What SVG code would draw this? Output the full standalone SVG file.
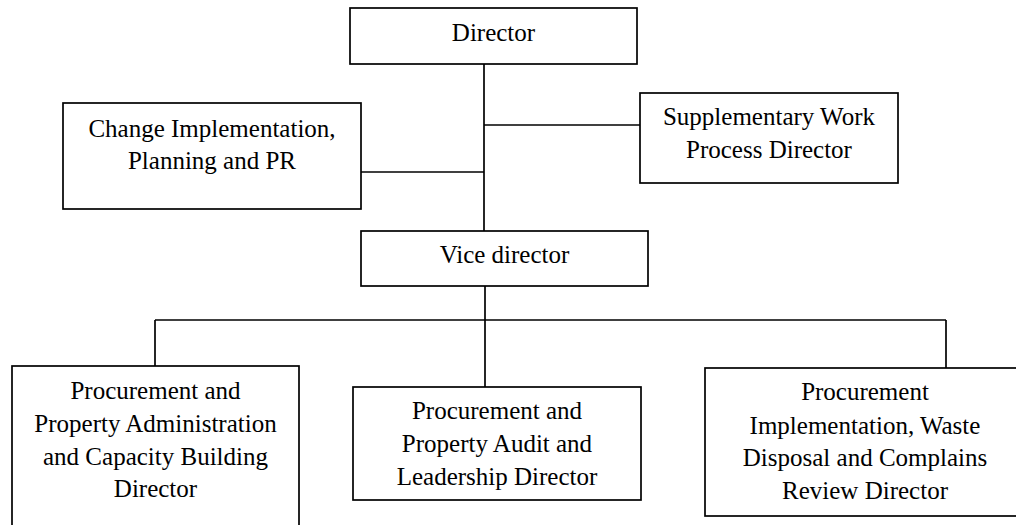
<svg xmlns="http://www.w3.org/2000/svg" width="1016" height="525" viewBox="0 0 1016 525">
<style>
.box{fill:#fff;stroke:#000;stroke-width:1.7}
.ln{stroke:#000;stroke-width:1.7;fill:none}
text{font-family:"Liberation Serif","Times New Roman",serif;font-size:25px;fill:#000;text-anchor:middle}
</style>
<rect width="1016" height="525" fill="#fff"/>
<g id="connectors">
<line class="ln" x1="484" y1="64" x2="484" y2="231"/>
<line class="ln" x1="361" y1="172" x2="484" y2="172"/>
<line class="ln" x1="484" y1="125" x2="640" y2="125"/>
<line class="ln" x1="485" y1="286" x2="485" y2="387"/>
<line class="ln" x1="155" y1="320" x2="946" y2="320"/>
<line class="ln" x1="155" y1="320" x2="155" y2="366"/>
<line class="ln" x1="946" y1="320" x2="946" y2="368"/>
</g>
<g id="director">
<rect class="box" x="350" y="8" width="287" height="56"/>
<text x="493.5" y="41">Director</text>
</g>
<g id="change">
<rect class="box" x="63" y="103" width="298" height="106"/>
<text x="212" y="137">Change Implementation,</text>
<text x="212" y="168.5">Planning and PR</text>
</g>
<g id="supplementary">
<rect class="box" x="640" y="93" width="258" height="90"/>
<text x="769" y="125">Supplementary Work</text>
<text x="769" y="157.5">Process Director</text>
</g>
<g id="vice">
<rect class="box" x="361" y="231" width="287" height="55"/>
<text x="504.5" y="263">Vice director</text>
</g>
<g id="admin">
<rect class="box" x="12" y="366" width="287" height="180"/>
<text x="155.5" y="399">Procurement and</text>
<text x="155.5" y="431.5">Property Administration</text>
<text x="155.5" y="464.5">and Capacity Building</text>
<text x="155.5" y="497">Director</text>
</g>
<g id="audit">
<rect class="box" x="353" y="387" width="288" height="113"/>
<text x="497" y="419">Procurement and</text>
<text x="497" y="452">Property Audit and</text>
<text x="497" y="485">Leadership Director</text>
</g>
<g id="implementation">
<rect class="box" x="705" y="368" width="330" height="148"/>
<text x="865" y="400">Procurement</text>
<text x="865" y="433.5">Implementation, Waste</text>
<text x="865" y="466">Disposal and Complains</text>
<text x="865" y="499">Review Director</text>
</g>
</svg>
